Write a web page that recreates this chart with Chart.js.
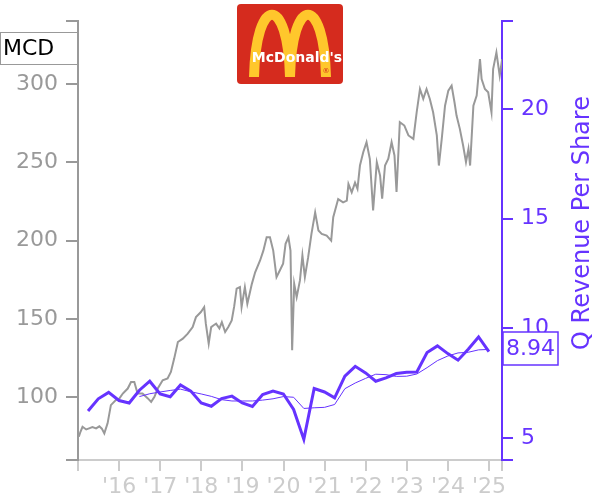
<!DOCTYPE html>
<html><head><meta charset="utf-8">
<script src="https://cdn.jsdelivr.net/npm/chart.js@4"></script>
<style>html,body{margin:0;padding:0;background:#fff}canvas{display:block}</style>
</head><body>
<canvas id="c" width="600" height="500"></canvas>
<script>
// ---- DATA ----
const ticker = 'MCD';
// MCD share price (adjusted), sampled at decimal-year times
const priceYears = [
 2015.02,2015.06,2015.11,2015.20,2015.27,2015.35,2015.44,2015.52,2015.58,2015.64,
 2015.72,2015.80,2015.92,2016.00,2016.09,2016.21,2016.29,2016.37,2016.45,2016.57,
 2016.70,2016.78,2016.86,2016.94,2017.06,2017.18,2017.26,2017.34,2017.43,2017.55,
 2017.67,2017.79,2017.87,2017.99,2018.07,2018.11,2018.18,2018.24,2018.30,2018.36,
 2018.44,2018.50,2018.58,2018.66,2018.74,2018.80,2018.86,2018.94,2018.98,2019.06,
 2019.12,2019.23,2019.31,2019.43,2019.51,2019.59,2019.67,2019.75,2019.83,2019.91,
 2019.99,2020.05,2020.12,2020.17,2020.21,2020.26,2020.32,2020.40,2020.46,2020.52,
 2020.60,2020.68,2020.77,2020.85,2020.93,2021.05,2021.16,2021.21,2021.33,2021.45,
 2021.54,2021.58,2021.66,2021.74,2021.80,2021.86,2021.94,2022.02,2022.10,2022.18,
 2022.27,2022.35,2022.40,2022.47,2022.55,2022.63,2022.70,2022.75,2022.83,2022.94,
 2023.04,2023.16,2023.24,2023.32,2023.40,2023.48,2023.56,2023.64,2023.73,2023.78,
 2023.85,2023.93,2024.01,2024.09,2024.16,2024.21,2024.29,2024.37,2024.44,2024.50,
 2024.54,2024.62,2024.70,2024.78,2024.82,2024.90,2024.98,2025.06,2025.10,2025.18,
 2025.26,2025.32
];
const priceValues = [
 74.8,78.0,81.2,79.5,80.2,81.0,80.2,81.5,80.0,77.0,
 83.4,95.0,98.2,99.0,102.4,105.6,109.8,109.8,102.4,102.4,
 99.3,97.1,100.3,105.6,110.9,112.0,116.2,124.7,135.3,137.4,
 140.6,144.8,151.2,154.4,157.6,147.0,134.3,144.8,146.0,147.0,
 144.0,148.0,141.7,145.0,149.1,158.0,169.3,170.3,157.6,170.3,
 159.7,172.4,179.8,187.3,193.6,202.1,202.1,193.6,176.7,180.9,
 185.2,197.9,202.1,193.6,130.0,172.4,163.9,174.6,190.5,176.7,
 189.4,204.3,218.0,206.4,204.3,203.2,200.0,214.9,226.5,224.4,
 225.5,236.1,230.8,237.0,233.0,247.9,256.4,262.8,252.2,219.3,
 250.0,241.5,226.7,247.9,252.2,262.8,254.3,231.0,275.6,273.4,
 267.1,264.9,281.9,296.7,290.4,296.7,290.4,281.9,267.1,247.9,
 264.9,286.1,295.7,298.9,288.3,279.8,271.3,260.7,250.1,258.5,
 247.9,286.1,292.5,315.8,303.1,296.7,294.6,281.9,309.5,320.1,
 305.2,315.8
];
// Quarterly revenue per share
const quarterEnds = [
 '2015-03-31','2015-06-30','2015-09-30','2015-12-31',
 '2016-03-31','2016-06-30','2016-09-30','2016-12-31',
 '2017-03-31','2017-06-30','2017-09-30','2017-12-31',
 '2018-03-31','2018-06-30','2018-09-30','2018-12-31',
 '2019-03-31','2019-06-30','2019-09-30','2019-12-31',
 '2020-03-31','2020-06-30','2020-09-30','2020-12-31',
 '2021-03-31','2021-06-30','2021-09-30','2021-12-31',
 '2022-03-31','2022-06-30','2022-09-30','2022-12-31',
 '2023-03-31','2023-06-30','2023-09-30','2023-12-31',
 '2024-03-31','2024-06-30','2024-09-30','2024-12-31'
];
const revenuePerShare = [
 6.23,6.79,7.08,6.71, 6.60,7.18,7.59,7.01, 6.88,7.42,7.14,6.60,
 6.45,6.80,6.91,6.60, 6.44,6.98,7.14,7.01, 6.30,4.94,7.26,7.10,
 6.83,7.82,8.27,7.97, 7.59,7.74,7.94,8.00, 8.01,8.90,9.20,8.85,
 8.55,9.05,9.61,8.94
];
// thin line (smoothed revenue per share)
const revenueSmooth = [
 null,null,null,null, null,6.89,7.02,7.10, 7.17,7.23,7.11,7.01,
 6.90,6.75,6.69,6.69, 6.69,6.73,6.79,6.89, 6.86,6.35,6.38,6.40,
 6.53,7.25,7.51,7.72, 7.91,7.89,7.81,7.82, 7.92,8.21,8.53,8.74,
 8.88,8.91,9.02,9.04
];
const xTickYears = [2015,2016,2017,2018,2019,2020,2021,2022,2023,2024,2025];
const leftTicks = [100,150,200,250,300];
const rightTicks = [5,10,15,20];
const rightTitle = 'Q Revenue Per Share';

// ---- helpers ----
function decYear(s){
  const [y,m,d]=s.split('-').map(Number);
  const t=Date.UTC(y,m-1,d), a=Date.UTC(y,0,1), b=Date.UTC(y+1,0,1);
  return y+(t-a)/(b-a);
}
const X_MIN=2015, X_MAX=2025.316, L_MIN=60, L_MAX=340, R_MIN=4, R_MAX=24;
const PURPLE='#6633ff', GRAY='#999999', LIGHT='#cccccc';
const FONT='"DejaVu Sans"';

const pricePts = priceYears.map((x,i)=>({x, y:priceValues[i]}));
const revPts = quarterEnds.map((d,i)=>({x:decYear(d), y:revenuePerShare[i]}));
const smoothPts = quarterEnds.map((d,i)=>({x:decYear(d), y:revenueSmooth[i]})).filter(p=>p.y!==null);

function rr(ctx,x,y,w,h,r){
  ctx.beginPath();
  ctx.moveTo(x+r,y);ctx.lineTo(x+w-r,y);ctx.quadraticCurveTo(x+w,y,x+w,y+r);
  ctx.lineTo(x+w,y+h-r);ctx.quadraticCurveTo(x+w,y+h,x+w-r,y+h);
  ctx.lineTo(x+r,y+h);ctx.quadraticCurveTo(x,y+h,x,y+h-r);
  ctx.lineTo(x,y+r);ctx.quadraticCurveTo(x,y,x+r,y);ctx.closePath();
}

const overlay = {
  id:'overlay',
  afterDraw(chart){
    const ctx=chart.ctx;
    ctx.save();
    // logo
    ctx.fillStyle='#d52b1e';
    rr(ctx,237,4,106,80,4); ctx.fill();
    ctx.strokeStyle='#ffc72c'; ctx.lineWidth=10;
    ctx.beginPath(); ctx.moveTo(254,77); ctx.bezierCurveTo(256,-6,288,-6,290,77); ctx.stroke();
    ctx.beginPath(); ctx.moveTo(290,77); ctx.bezierCurveTo(292,-6,324,-6,326,77); ctx.stroke();
    ctx.fillStyle='#ffffff'; ctx.font='bold 14px '+FONT; ctx.textAlign='center'; ctx.textBaseline='middle';
    ctx.fillText("McDonald's",297,58);
    ctx.font='7px '+FONT; ctx.fillStyle='#d52b1e'; ctx.fillText('®',326,71);
    // ticker box
    ctx.fillStyle='#fff'; ctx.fillRect(0,32,78,32);
    ctx.strokeStyle=GRAY; ctx.lineWidth=1; ctx.strokeRect(0.5,32.5,77,32);
    ctx.fillStyle='#000'; ctx.font='22px '+FONT; ctx.textAlign='left'; ctx.textBaseline='middle';
    ctx.fillText(ticker,3,49);
    // last value label
    const y2=chart.scales.y2;
    const last=revenuePerShare[revenuePerShare.length-1];
    const py=Math.round(y2.getPixelForValue(last))-4;
    ctx.fillStyle='#fff'; ctx.fillRect(503,py-16,55,33);
    ctx.strokeStyle=PURPLE; ctx.lineWidth=1.5; ctx.strokeRect(503,py-16,55,33);
    ctx.fillStyle=PURPLE; ctx.font='22px '+FONT; ctx.textAlign='center';
    ctx.fillText(last.toFixed(2),530.5,py+1);
    // right axis title
    ctx.translate(589,223); ctx.rotate(-Math.PI/2);
    ctx.fillStyle=PURPLE; ctx.font='24px '+FONT; ctx.textAlign='center'; ctx.textBaseline='alphabetic';
    ctx.fillText(rightTitle,0,0);
    ctx.restore();
  }
};

new Chart(document.getElementById('c'),{
  type:'line',
  data:{datasets:[
    {data:revPts, borderColor:PURPLE, borderWidth:3, yAxisID:'y2', order:1, pointRadius:0, tension:0},
    {data:smoothPts, borderColor:PURPLE, borderWidth:1, yAxisID:'y2', order:2, pointRadius:0, tension:0},
    {data:pricePts, borderColor:GRAY, borderWidth:2, yAxisID:'y', order:3, pointRadius:0, tension:0}
  ]},
  options:{
    responsive:false, animation:false, devicePixelRatio:1,
    layout:{padding:{top:20,left:0,right:0,bottom:0}},
    plugins:{legend:{display:false},tooltip:{enabled:false}},
    scales:{
      x:{type:'linear', position:'bottom', min:X_MIN, max:X_MAX,
        afterBuildTicks:s=>{s.ticks=xTickYears.concat([X_MAX]).map(v=>({value:v}));},
        afterFit:s=>{s.height=40;},
        ticks:{autoSkip:false, maxRotation:0, color:LIGHT, padding:3,
          font:{family:'DejaVu Sans',size:22},
          callback:v=>(Number.isInteger(v)&&v>X_MIN)?("'"+String(v).slice(2)):''},
        grid:{drawOnChartArea:false, drawTicks:true, tickLength:11, color:LIGHT, lineWidth:2},
        border:{display:true, color:LIGHT, width:2}
      },
      y:{type:'linear', position:'left', min:L_MIN, max:L_MAX,
        afterBuildTicks:s=>{s.ticks=[L_MIN].concat(leftTicks,[L_MAX]).map(v=>({value:v}));},
        afterFit:s=>{s.width=78;},
        ticks:{color:GRAY, padding:8, font:{family:'DejaVu Sans',size:22},
          callback:v=>(v===L_MIN||v===L_MAX)?'':String(v)},
        grid:{drawOnChartArea:false, drawTicks:true, tickLength:12, color:GRAY, lineWidth:2},
        border:{display:true, color:GRAY, width:2}
      },
      y2:{type:'linear', position:'right', min:R_MIN, max:R_MAX,
        afterBuildTicks:s=>{s.ticks=[R_MIN].concat(rightTicks,[R_MAX]).map(v=>({value:v}));},
        afterFit:s=>{s.width=98;},
        ticks:{color:PURPLE, padding:8, font:{family:'DejaVu Sans',size:22},
          callback:v=>(v===R_MIN||v===R_MAX)?'':String(v)},
        grid:{drawOnChartArea:false, drawTicks:true, tickLength:11, color:PURPLE, lineWidth:2},
        border:{display:true, color:PURPLE, width:2}
      }
    }
  },
  plugins:[overlay]
});
</script>
</body></html>
